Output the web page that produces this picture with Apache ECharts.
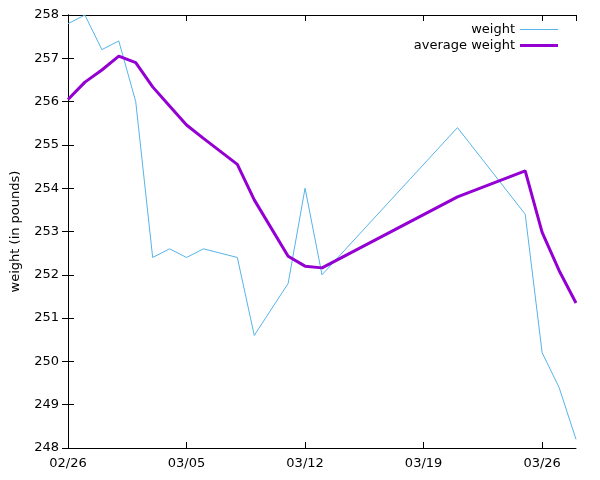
<!DOCTYPE html>
<html><head><meta charset="utf-8">
<script src="https://cdn.jsdelivr.net/npm/echarts@6/dist/echarts.min.js"></script>
<style>html,body{margin:0;padding:0;background:#fff}#c{width:600px;height:480px}</style>
</head><body><div id="c"></div>
<script>
const year = 2023;
const startDate = '02-26';
const endDate = '03-28';
const tickStepDays = 7;
const weightDates = ['02-26','02-27','02-28','03-01','03-02','03-03','03-04','03-05','03-06','03-08','03-09','03-11','03-12','03-13','03-21','03-25','03-26','03-27','03-28'];
const weightValues = [257.8,258.0,257.2,257.4,256.0,252.4,252.6,252.4,252.6,252.4,250.6,251.8,254.0,252.0,255.4,253.4,250.2,249.4,248.2];
const avgDates = ['02-26','02-27','02-28','03-01','03-02','03-03','03-04','03-05','03-06','03-08','03-09','03-11','03-12','03-13','03-21','03-25','03-26','03-27','03-28'];
const avgValues = [256.05,256.45,256.73,257.05,256.9,256.34,255.9,255.46,255.15,254.55,253.73,252.43,252.2,252.16,253.8,254.4,252.98,252.1,251.35];
const yTicks = [248,249,250,251,252,253,254,255,256,257,258];

function toDay(s){
  const [m,d] = s.split('-').map(Number);
  const [m0,d0] = startDate.split('-').map(Number);
  return Math.round((Date.UTC(year,m-1,d)-Date.UTC(year,m0-1,d0))/86400000);
}
function dayLabel(n){
  const [m0,d0] = startDate.split('-').map(Number);
  const t = new Date(Date.UTC(year,m0-1,d0) + n*86400000);
  const mm = String(t.getUTCMonth()+1).padStart(2,'0');
  const dd = String(t.getUTCDate()).padStart(2,'0');
  return mm+'/'+dd;
}
const maxDay = toDay(endDate);
const font = 'DejaVu Sans';
const axisCommon = {
  axisLine:{show:true,lineStyle:{color:'#000',width:1}},
  axisTick:{show:true,inside:true,length:6,lineStyle:{color:'#000'}},
  splitLine:{show:false}
};
const chart = echarts.init(document.getElementById('c'),null,{renderer:'canvas'});
chart.setOption({
  animation:false,
  backgroundColor:'#fff',
  grid:{left:68,right:24,top:15,bottom:32,containLabel:false},
  legend:[
    {data:[{name:'weight',icon:'rect'}],orient:'horizontal',right:42,top:23,align:'right',itemWidth:38,itemHeight:1,itemGap:4,
     textStyle:{fontFamily:font,fontSize:13,color:'#000'},selectedMode:false,padding:0},
    {data:[{name:'average weight',icon:'rect'}],orient:'horizontal',right:42,top:39,align:'right',itemWidth:38,itemHeight:3,itemGap:4,
     textStyle:{fontFamily:font,fontSize:13,color:'#000'},selectedMode:false,padding:0}
  ],
  xAxis:[
    Object.assign({type:'value',min:0,max:maxDay,interval:tickStepDays,position:'bottom',
      axisLabel:{show:true,formatter:v=>dayLabel(v),fontFamily:font,fontSize:13,color:'#000',margin:9,showMaxLabel:false}},axisCommon),
    Object.assign({type:'value',min:0,max:maxDay,interval:tickStepDays,position:'top',
      axisLabel:{show:false}},axisCommon)
  ],
  yAxis:[
    Object.assign({type:'value',min:yTicks[0],max:yTicks[yTicks.length-1],interval:1,position:'left',
      name:'weight (in pounds)',nameLocation:'middle',nameGap:46,nameRotate:90,
      nameTextStyle:{fontFamily:font,fontSize:13,color:'#000'},
      axisLabel:{show:true,fontFamily:font,fontSize:13,color:'#000',margin:9}},axisCommon),
    Object.assign({type:'value',min:yTicks[0],max:yTicks[yTicks.length-1],interval:1,position:'right',
      axisLabel:{show:false}},axisCommon)
  ],
  series:[
    {name:'weight',type:'line',xAxisIndex:0,yAxisIndex:0,showSymbol:false,symbol:'none',
     lineStyle:{color:'#56b4e9',width:1},itemStyle:{color:'#56b4e9'},
     data:weightDates.map((d,i)=>[toDay(d),weightValues[i]])},
    {name:'average weight',type:'line',xAxisIndex:0,yAxisIndex:0,showSymbol:false,symbol:'none',
     lineStyle:{color:'#9400d3',width:3},itemStyle:{color:'#9400d3'},
     data:avgDates.map((d,i)=>[toDay(d),avgValues[i]])}
  ]
});
</script></body></html>
